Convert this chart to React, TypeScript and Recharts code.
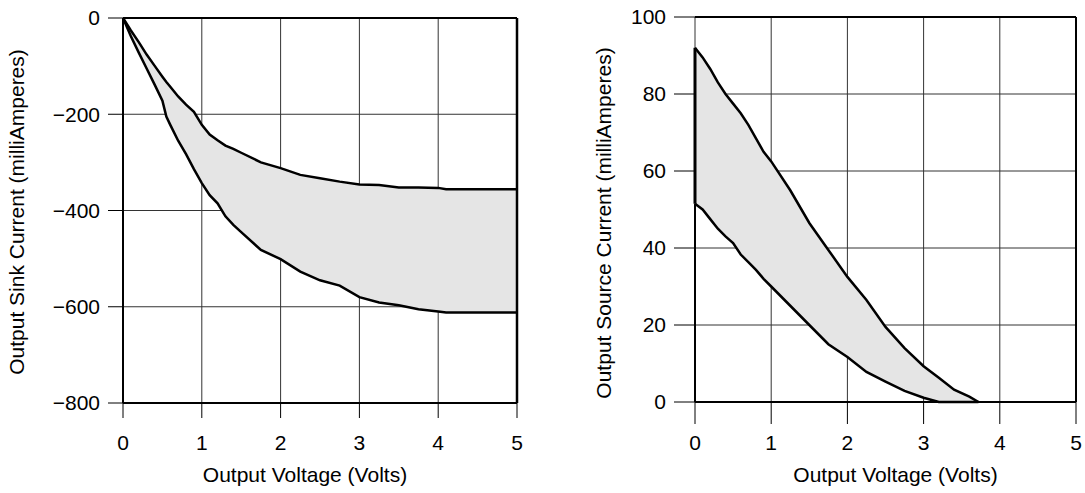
import {
  ComposedChart,
  Area,
  Line,
  XAxis,
  YAxis,
  CartesianGrid,
  ReferenceLine,
  Label,
} from 'recharts';

// left panel: output sink current vs output voltage
const SINK_V = [0, 0.1, 0.2, 0.3, 0.4, 0.5, 0.55, 0.6, 0.7, 0.8, 0.9, 1.0, 1.1, 1.2, 1.3, 1.4, 1.5, 1.75, 2.0, 2.25, 2.5, 2.75, 3.0, 3.25, 3.5, 3.75, 4.0, 4.1, 4.5, 5.0];
const SINK_HI = [0, -26, -50, -76, -99, -122, -133, -143, -163, -180, -195, -222, -242, -254, -265, -272, -280, -300, -312, -326, -333, -340, -346, -347, -352, -352, -353, -356, -356, -356];
const SINK_LO = [0, -38, -72, -105, -138, -172, -205, -222, -255, -283, -314, -343, -368, -385, -412, -430, -445, -482, -501, -527, -545, -556, -580, -591, -597, -605, -610, -612, -612, -612];
const SINK_TICKS = [0, -200, -400, -600, -800];

// right panel: output source current vs output voltage
const SRC_V = [0, 0.1, 0.2, 0.3, 0.4, 0.5, 0.6, 0.7, 0.8, 0.9, 1.0, 1.25, 1.5, 1.75, 2.0, 2.25, 2.5, 2.75, 3.0, 3.2, 3.4, 3.6, 3.72];
const SRC_HI = [92, 89.5, 86.5, 83, 80, 77.5, 75, 72, 68.5, 65, 62.5, 55, 46.5, 39.5, 32.5, 26.5, 19.5, 14, 9.3, 6.3, 3.2, 1.4, 0];
const SRC_LO = [51.5, 50, 47.5, 45, 43, 41.3, 38.3, 36.3, 34.3, 32, 30, 25, 20, 15, 11.7, 7.8, 5.3, 2.9, 1.1, 0, 0, 0, 0];
const SRC_TICKS = [0, 20, 40, 60, 80, 100];

const VOLT_TICKS = [0, 1, 2, 3, 4, 5];

const FONT = '"Liberation Sans", Arial, Helvetica, sans-serif';
const BAND_FILL = '#e5e5e5';
const GRID = '#333';
const INK = '#000';

const fmtMinus = (v: number) => (v < 0 ? `\u2212${Math.abs(v)}` : `${v}`);

const sinkData = SINK_V.map((v, i) => ({ v, hi: SINK_HI[i], lo: SINK_LO[i], band: [SINK_LO[i], SINK_HI[i]] }));
const srcData = SRC_V.map((v, i) => ({ v, hi: SRC_HI[i], lo: SRC_LO[i], band: [SRC_LO[i], SRC_HI[i]] }));

const tickStyle = { fill: INK, fontSize: 21, fontFamily: FONT };
const titleStyle = { fill: INK, fontSize: 21, fontFamily: FONT };

function SinkChart() {
  return (
    <ComposedChart
      width={540}
      height={493}
      data={sinkData}
      margin={{ top: 18, right: 23, bottom: 0, left: 0 }}
      style={{ fontFamily: FONT }}
    >
      <CartesianGrid stroke={GRID} strokeWidth={1} />
      <XAxis
        dataKey="v"
        type="number"
        domain={[0, 5]}
        ticks={VOLT_TICKS}
        interval={0}
        axisLine={false}
        tickLine={{ stroke: INK, strokeWidth: 1 }}
        tickSize={15}
        tickMargin={17}
        tick={tickStyle}
        height={90}
      >
        <Label value="Output Voltage (Volts)" position="insideBottom" offset={11} dx={-15} style={titleStyle} />
      </XAxis>
      <YAxis
        type="number"
        domain={[-800, 0]}
        ticks={SINK_TICKS}
        interval={0}
        axisLine={false}
        tickLine={{ stroke: INK, strokeWidth: 1 }}
        tickSize={15}
        tickMargin={8}
        tick={tickStyle}
        tickFormatter={fmtMinus}
        width={123}
      >
        <Label value="Output Sink Current (milliAmperes)" angle={-90} position="center" dx={-44.5} dy={1.5} style={titleStyle} />
      </YAxis>
      <Area dataKey="band" type="linear" fill={BAND_FILL} fillOpacity={1} stroke="none" isAnimationActive={false} />
      <ReferenceLine x={0} stroke={INK} strokeWidth={2} />
      <ReferenceLine x={5} stroke={INK} strokeWidth={2.5} />
      <ReferenceLine y={0} stroke={INK} strokeWidth={2} />
      <ReferenceLine y={-800} stroke={INK} strokeWidth={2} />
      <Line dataKey="hi" type="linear" stroke={INK} strokeWidth={2.5} dot={false} isAnimationActive={false} />
      <Line dataKey="lo" type="linear" stroke={INK} strokeWidth={2.5} dot={false} isAnimationActive={false} />
    </ComposedChart>
  );
}

function SourceChart() {
  return (
    <ComposedChart
      width={525}
      height={493}
      data={srcData}
      margin={{ top: 17, right: 9, bottom: 0, left: 0 }}
      style={{ fontFamily: FONT }}
    >
      <CartesianGrid stroke={GRID} strokeWidth={1} />
      <XAxis
        dataKey="v"
        type="number"
        domain={[0, 5]}
        ticks={VOLT_TICKS}
        interval={0}
        axisLine={false}
        tickLine={{ stroke: INK, strokeWidth: 1 }}
        tickSize={22}
        tickMargin={11}
        tick={tickStyle}
        height={91}
      >
        <Label value="Output Voltage (Volts)" position="insideBottom" offset={11} dx={10} style={titleStyle} />
      </XAxis>
      <YAxis
        type="number"
        domain={[0, 100]}
        ticks={SRC_TICKS}
        interval={0}
        axisLine={false}
        tickLine={{ stroke: INK, strokeWidth: 1 }}
        tickSize={21}
        tickMargin={8}
        tick={tickStyle}
        width={135}
      >
        <Label value="Output Source Current (milliAmperes)" angle={-90} position="center" dx={-23.5} dy={13.5} style={titleStyle} />
      </YAxis>
      <Area dataKey="band" type="linear" fill={BAND_FILL} fillOpacity={1} stroke="none" isAnimationActive={false} />
      <ReferenceLine x={5} stroke={INK} strokeWidth={2} />
      <ReferenceLine y={100} stroke={INK} strokeWidth={2} />
      <ReferenceLine y={0} stroke={INK} strokeWidth={2} />
      <ReferenceLine segment={[{ x: 0, y: 0 }, { x: 0, y: SRC_LO[0] }]} stroke={INK} strokeWidth={2} />
      <ReferenceLine segment={[{ x: 0, y: SRC_LO[0] }, { x: 0, y: SRC_HI[0] }]} stroke={INK} strokeWidth={3} />
      <Line dataKey="hi" type="linear" stroke={INK} strokeWidth={2.5} dot={false} isAnimationActive={false} />
      <Line dataKey="lo" type="linear" stroke={INK} strokeWidth={2.5} dot={false} isAnimationActive={false} />
    </ComposedChart>
  );
}

export default function App() {
  return (
    <div style={{ position: 'absolute', left: 0, top: 0, width: 1085, height: 493, background: '#fff' }}>
      <div style={{ position: 'absolute', left: 0, top: 0 }}>
        <SinkChart />
      </div>
      <div style={{ position: 'absolute', left: 560, top: 0 }}>
        <SourceChart />
      </div>
    </div>
  );
}
